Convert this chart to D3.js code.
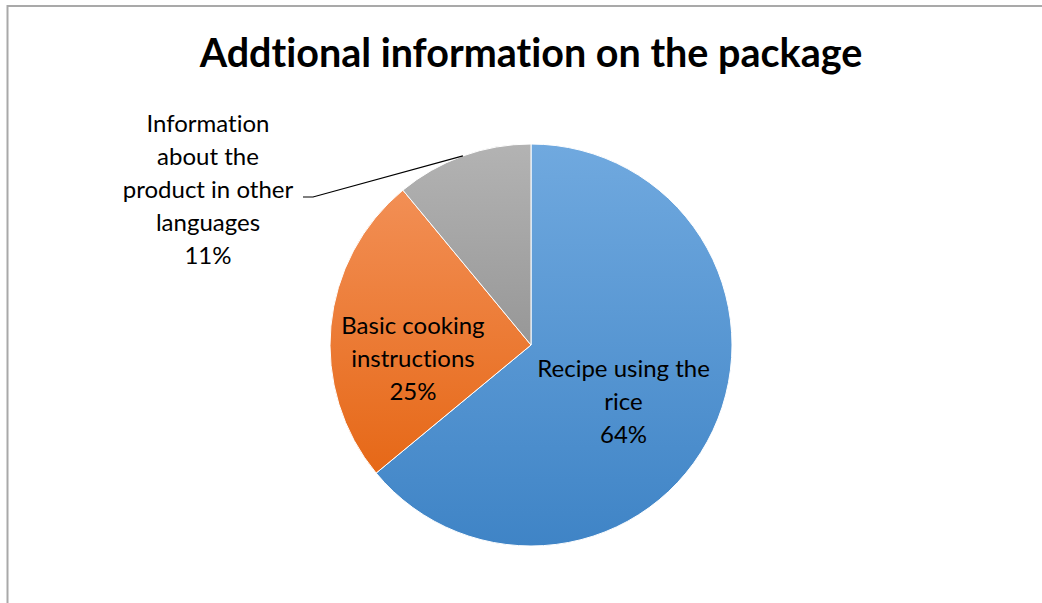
<!DOCTYPE html>
<html>
<head>
<meta charset="utf-8">
<script src="https://cdn.jsdelivr.net/npm/d3@7"></script>
<style>
  html, body { margin: 0; padding: 0; background: #fff; }
  svg { display: block; }
  text { font-variant-ligatures: none; font-feature-settings: "liga" 0; }
</style>
</head>
<body>
<svg id="chart" width="1042" height="603"></svg>
<script>
// Share of respondents wanting each kind of extra information on the package
const titleText = "Addtional information on the package";
const categories = [
  "Recipe using the rice",
  "Basic cooking instructions",
  "Information about the product in other languages"
];
const values = [64, 25, 11];
// label lines as wrapped on the chart
const labelLines = [
  ["Recipe using the", "rice"],
  ["Basic cooking", "instructions"],
  ["Information", "about the", "product in other", "languages"]
];
const gradientStops = [
  ["#70a9df", "#3f84c6"],
  ["#f28f55", "#e66817"],
  ["#b3b3b3", "#979797"]
];

const W = 1042, H = 603;
const cx = 531, cy = 345, R = 201;
const lineH = 33;
const font = "Lato, 'Open Sans', sans-serif";

const svg = d3.select("#chart");

// chart area frame (only the top and left edges are in view)
svg.append("line").attr("x1", 7.5).attr("y1", 6).attr("x2", W).attr("y2", 6)
  .attr("stroke", "#a9a9a9").attr("stroke-width", 2);
svg.append("line").attr("x1", 7.5).attr("y1", 5).attr("x2", 7.5).attr("y2", H)
  .attr("stroke", "#a9a9a9").attr("stroke-width", 2);

svg.append("text")
  .attr("x", cx).attr("y", 67)
  .attr("text-anchor", "middle")
  .attr("font-family", font)
  .attr("font-weight", "bold")
  .attr("font-size", 39.5)
  .attr("fill", "#000")
  .text(titleText);

const defs = svg.append("defs");
gradientStops.forEach((s, i) => {
  const g = defs.append("linearGradient")
    .attr("id", "grad" + i)
    .attr("x1", 0).attr("y1", 0).attr("x2", 0).attr("y2", 1);
  g.append("stop").attr("offset", "0%").attr("stop-color", s[0]);
  g.append("stop").attr("offset", "100%").attr("stop-color", s[1]);
});

const data = categories.map((c, i) => ({ category: c, value: values[i], lines: labelLines[i], idx: i }));

const pie = d3.pie().value(d => d.value).sort(null);
const arcs = pie(data);
const arc = d3.arc().innerRadius(0).outerRadius(R);

const g = svg.append("g").attr("transform", `translate(${cx},${cy})`);

g.selectAll("path.slice")
  .data(arcs)
  .join("path")
  .attr("class", "slice")
  .attr("d", arc)
  .attr("fill", d => `url(#grad${d.data.idx})`)
  .attr("stroke", "#ffffff")
  .attr("stroke-width", 1)
  .attr("stroke-linejoin", "round");

const pct = d => Math.round(d.value) + "%";

// label placement: inside slices for the two large ones, outside with a leader for the small one
const placement = [
  { type: "inside", rFrac: 0.52, dx: -2, dy: 12 },
  { type: "inside", rFrac: 0.59, dx: 0, dy: 25 },
  { type: "outside", x: 208, y: 190, elbowX: 313, endX: 303 }
];

function drawLabel(sel, lines, x, yCenter) {
  const all = lines.concat([pct(sel.datum().data)]);
  const n = all.length;
  const t = sel.append("text")
    .attr("text-anchor", "middle")
    .attr("font-family", font)
    .attr("font-size", 24)
    .attr("fill", "#000");
  all.forEach((ln, k) => {
    t.append("tspan")
      .attr("x", x)
      .attr("y", yCenter + (k - (n - 1) / 2) * lineH + 8)
      .text(ln);
  });
}

const labels = svg.append("g");
arcs.forEach((a, i) => {
  const p = placement[i];
  const sel = labels.append("g").datum(a);
  if (p.type === "inside") {
    const la = d3.arc().innerRadius(R * p.rFrac).outerRadius(R * p.rFrac);
    const [x, y] = la.centroid(a);
    drawLabel(sel, a.data.lines, cx + x + p.dx, cy + y + p.dy);
  } else {
    const [ex, ey] = arc.centroid(a).map(v => v * 2);
    const yLine = p.y + 7;
    sel.append("polyline")
      .attr("points", [[cx + ex, cy + ey], [p.elbowX, yLine], [p.endX, yLine]].map(q => q.join(",")).join(" "))
      .attr("fill", "none")
      .attr("stroke", "#000")
      .attr("stroke-width", 1.2);
    drawLabel(sel, a.data.lines, p.x, p.y);
  }
});
</script>
</body>
</html>
